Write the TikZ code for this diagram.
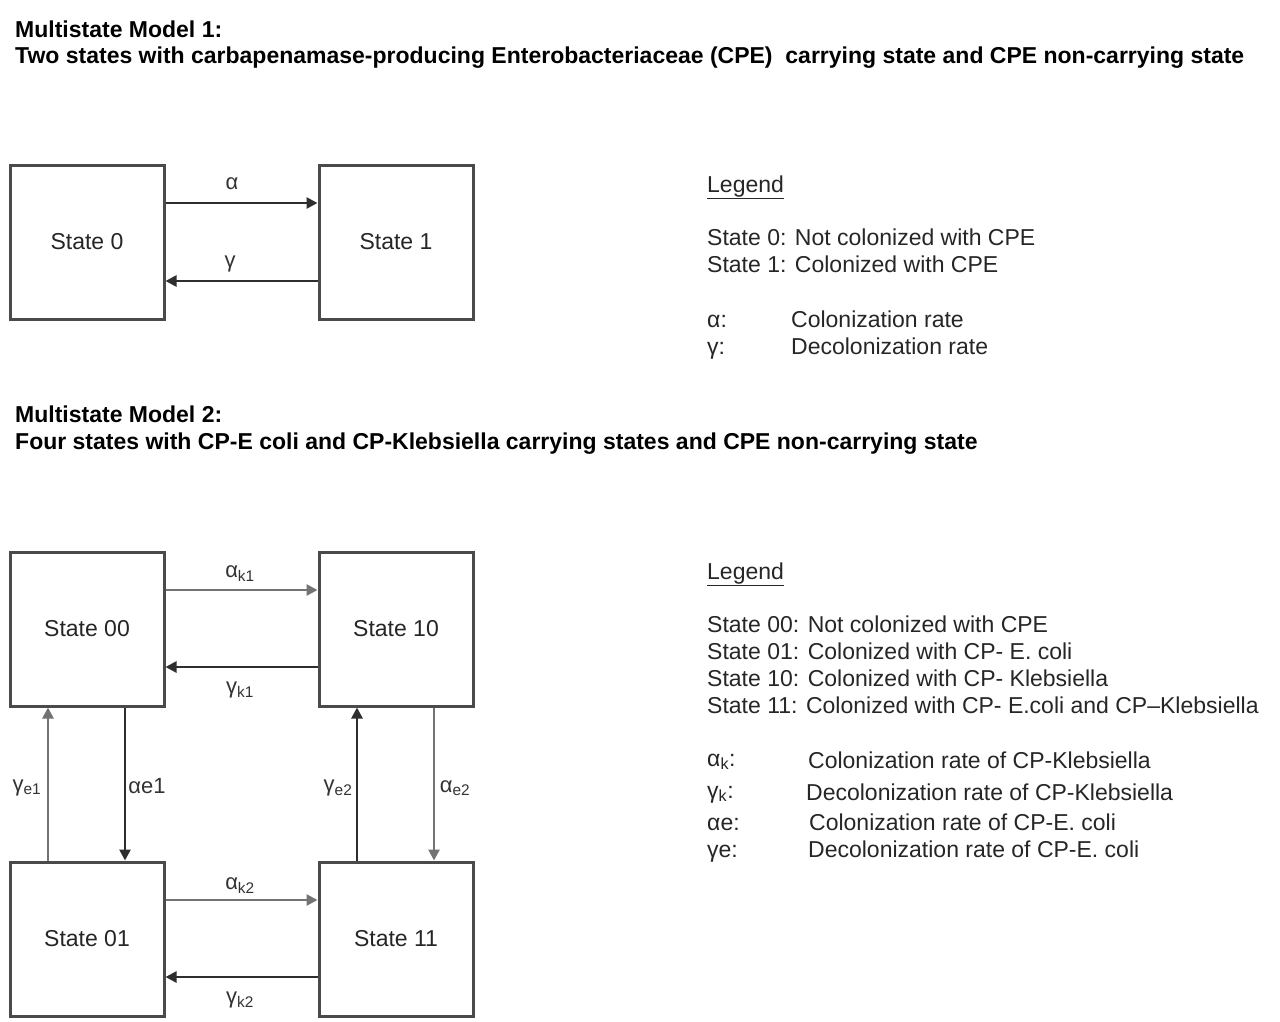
\documentclass[tikz,border=0pt]{standalone}
\usepackage{fontspec}
\setmainfont{Liberation Sans}
\usetikzlibrary{arrows.meta}
\definecolor{boxgray}{HTML}{4A4A4A}
\definecolor{arrgray}{HTML}{2E2E2E}
\begin{document}
\begin{tikzpicture}[x=1pt,y=-1pt,
  statebox/.style={draw=boxgray,line width=3pt,minimum width=154pt,minimum height=154pt,inner sep=0pt,font=\fontsize{23}{26}\selectfont,text=black!85},
  trans/.style={draw=arrgray,line width=2.6pt,-{Triangle[length=11pt,width=11pt]}},
  lab/.style={font=\fontsize{22}{26}\selectfont,text=black!80,inner sep=1pt},
  title/.style={font=\bfseries\fontsize{23}{26}\selectfont,anchor=base west,inner sep=0pt},
  leg/.style={font=\fontsize{23}{26}\selectfont,anchor=base west,inner sep=0pt,text=black!85}]
\useasboundingbox[fill=white] (0,0) rectangle (1280,1021);

% ---- Model 1 ----
\node[title] (t1) at (15,37) {Multistate Model 1:};
\node[title] (t2) at (15,63) {Two states with carbapenamase-producing Enterobacteriaceae (CPE)\ \ carrying state and CPE non-carrying state};

\node[statebox] (s0) at (87,242) {State 0};
\node[statebox] (s1) at (396,242) {State 1};
\draw[trans] ([yshift=39pt]s0.east) -- ([yshift=39pt]s1.west);
\node[lab] (la) at (232,184) {α};
\draw[trans] ([yshift=-39pt]s1.west) -- ([yshift=-39pt]s0.east);
\node[lab] (lg) at (230,264) {γ};

\node[leg] (lg1) at (707,192) {\underline{Legend}};
\node[leg] (l11) at (707,245) {State 0: Not colonized with CPE};
\node[leg] (l12) at (707,272) {State 1: Colonized with CPE};
\node[leg] (l13) at (707,327) {α:};
\node[leg] (l14) at (791,327) {Colonization rate};
\node[leg] (l15) at (707,354) {γ:};
\node[leg] (l16) at (791,354) {Decolonization rate};

% ---- Model 2 ----
\node[title] (t3) at (15,422) {Multistate Model 2:};
\node[title] (t4) at (15,449) {Four states with CP-E coli and CP-Klebsiella carrying states and CPE non-carrying state};

\node[statebox] (s00) at (87,629) {State 00};
\node[statebox] (s10) at (396,629) {State 10};
\node[statebox] (s01) at (87,939) {State 01};
\node[statebox] (s11) at (396,939) {State 11};

\draw[trans,draw=black!55] ([yshift=39pt]s00.east) -- ([yshift=39pt]s10.west);
\node[lab] (lak1) at (240,574) {α\textsubscript{k1}};
\draw[trans] ([yshift=-38pt]s10.west) -- ([yshift=-38pt]s00.east);
\node[lab] (lgk1) at (240,690) {γ\textsubscript{k1}};

\draw[trans,draw=black!55] ([yshift=39pt]s01.east) -- ([yshift=39pt]s11.west);
\node[lab] (lak2) at (240,886) {α\textsubscript{k2}};
\draw[trans] ([yshift=-38pt]s11.west) -- ([yshift=-38pt]s01.east);
\node[lab] (lgk2) at (240,1000) {γ\textsubscript{k2}};

\draw[trans,draw=black!55] ([xshift=-39pt]s01.north) -- ([xshift=-39pt]s00.south);
\node[lab] (lge1) at (27,788) {γ\textsubscript{e1}};
\draw[trans] ([xshift=38pt]s00.south) -- ([xshift=38pt]s01.north);
\node[lab] (lae1) at (147,786) {αe1};
\draw[trans] ([xshift=-39pt]s11.north) -- ([xshift=-39pt]s10.south);
\node[lab] (lge2) at (338,788) {γ\textsubscript{e2}};
\draw[trans,draw=black!55] ([xshift=38pt]s10.south) -- ([xshift=38pt]s11.north);
\node[lab] (lae2) at (455,788) {α\textsubscript{e2}};

\node[leg] (lg2) at (707,579) {\underline{Legend}};
\node[leg] (l21) at (707,632) {State 00: Not colonized with CPE};
\node[leg] (l22) at (707,659) {State 01: Colonized with CP- E. coli};
\node[leg] (l23) at (707,686) {State 10: Colonized with CP- Klebsiella};
\node[leg] (l24) at (707,713) {State 11: Colonized with CP- E.coli and CP--Klebsiella};
\node[leg] (l25) at (707,766) {α\textsubscript{k}:};
\node[leg] (l26) at (808,768) {Colonization rate of CP-Klebsiella};
\node[leg] (l27) at (707,798) {γ\textsubscript{k}:};
\node[leg] (l28) at (806,800) {Decolonization rate of CP-Klebsiella};
\node[leg] (l29) at (707,830) {αe:};
\node[leg] (l30) at (809,830) {Colonization rate of CP-E. coli};
\node[leg] (l31) at (707,857) {γe:};
\node[leg] (l32) at (808,857) {Decolonization rate of CP-E. coli};
\end{tikzpicture}
\end{document}
